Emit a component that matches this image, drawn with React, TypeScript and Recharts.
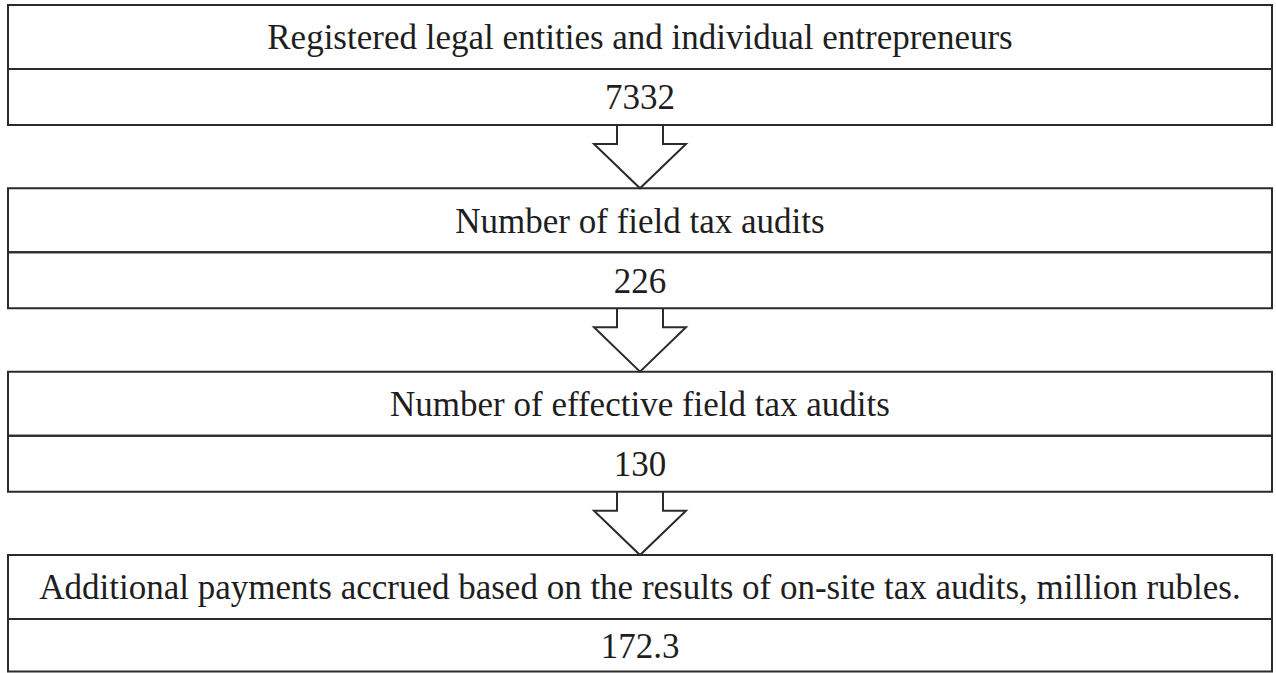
import { ComposedChart, Line, ReferenceArea, XAxis, YAxis } from 'recharts';

// flowchart stages, top to bottom
const stageTitles = [
  'Registered legal entities and individual entrepreneurs',
  'Number of field tax audits',
  'Number of effective field tax audits',
  'Additional payments accrued based on the results of on-site tax audits, million rubles.',
];
const stageValues = [7332, 226, 130, 172.3];

const data = stageTitles.map((title, i) => ({ stage: i, title, value: stageValues[i] }));

// layout (y in stage units: one stage = one unit, x in pixels)
const W = 1276;
const H = 673;
const STEP_PX = 183.33;
const Y_MIN = -5 / STEP_PX;
const Y_MAX = (H - 5) / STEP_PX;
const BOX_H = 120 / STEP_PX;
const DIVIDER = 64 / STEP_PX;
const BOX_X1 = 8;
const BOX_X2 = 1272;
const ARROW_CX = 640;
const SHAFT_HALF = 23;

const LINE = '#2b2b2b';
const TEXT = '#1e1e1e';
const FONT = '"Liberation Serif", "Times New Roman", serif';

const labelStyle = {
  position: 'center' as const,
  fontSize: 35,
  fontFamily: FONT,
  fill: TEXT,
};

const boxBottom = (stage: number) => Math.min(stage + BOX_H, Y_MAX - 1.5 / STEP_PX);

function ArrowShape(props: any) {
  const { x, y, width, height } = props;
  const cx = x + width / 2;
  const half = width / 2;
  const headHalf = width;
  const headY = y + height * 0.3;
  const d = `M${cx - half},${y} L${cx - half},${headY} L${cx - headHalf},${headY} L${cx},${y + height} L${cx + headHalf},${headY} L${cx + half},${headY} L${cx + half},${y}`;
  return <path d={d} fill="#fff" stroke={LINE} strokeWidth={2} strokeLinejoin="miter" />;
}

export default function App() {
  return (
    <div style={{ position: 'absolute', left: 0, top: 0, background: '#fff' }}>
      <ComposedChart width={W} height={H} data={data} margin={{ top: 0, right: 0, bottom: 0, left: 0 }}>
        <XAxis type="number" dataKey="stage" domain={[0, W]} allowDataOverflow hide />
        <YAxis type="number" dataKey="stage" domain={[Y_MIN, Y_MAX]} allowDataOverflow reversed hide />
        {/* invisible carrier series so the axes get scales */}
        <Line dataKey="stage" stroke="none" dot={false} activeDot={false} isAnimationActive={false} />

        {data.slice(0, -1).map((d) => (
          <ReferenceArea
            key={`arrow-${d.stage}`}
            x1={ARROW_CX - SHAFT_HALF}
            x2={ARROW_CX + SHAFT_HALF}
            y1={d.stage + BOX_H}
            y2={d.stage + 1}
            shape={(p: any) => <ArrowShape {...p} />}
          />
        ))}

        {data.map((d) => (
          <ReferenceArea
            key={`title-${d.stage}`}
            x1={BOX_X1}
            x2={BOX_X2}
            y1={d.stage}
            y2={d.stage + DIVIDER}
            fill="#fff"
            fillOpacity={0}
            stroke={LINE}
            strokeWidth={2}
            label={{ value: d.title, ...labelStyle }}
          />
        ))}
        {data.map((d) => (
          <ReferenceArea
            key={`value-${d.stage}`}
            x1={BOX_X1}
            x2={BOX_X2}
            y1={d.stage + DIVIDER}
            y2={boxBottom(d.stage)}
            fill="#fff"
            fillOpacity={0}
            stroke={LINE}
            strokeWidth={2}
            label={{ value: String(d.value), ...labelStyle }}
          />
        ))}
      </ComposedChart>
    </div>
  );
}
